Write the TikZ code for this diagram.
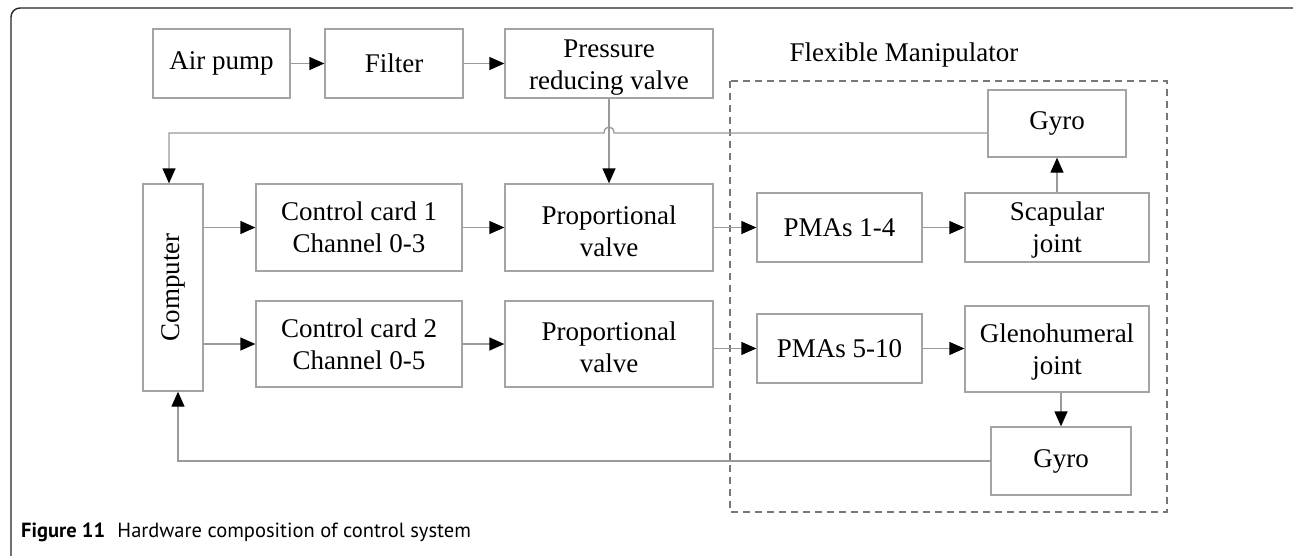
\documentclass[tikz,border=0pt]{standalone}
\usepackage{fontspec}
\setmainfont{Liberation Serif}
\newfontfamily\capfont{PT Sans}
\usetikzlibrary{arrows.meta}
\definecolor{boxgray}{HTML}{A4A4A4}
\definecolor{linegray}{HTML}{9A9A9A}
\definecolor{dashgray}{HTML}{777777}
\tikzset{
  blk/.style={draw=boxgray, line width=1.3pt, inner sep=0pt, align=center,
    font=\fontsize{27}{32}\selectfont, text=black},
  twoline/.style={text depth=0pt, yshift=0pt},
  conn/.style={draw=linegray, line width=1.3pt,
    -{Triangle[length=15pt,width=13pt,color=black]}},
}
\begin{document}
\begin{tikzpicture}[x=1pt,y=-1pt]
\useasboundingbox (0,0) rectangle (1293,555);
\clip (0,0) rectangle (1293,555);
\fill[white] (0,0) rectangle (1293,555);
% outer frame
\draw[draw=black!85, line width=1.4pt, rounded corners=9pt] (11,8) rectangle (1302,566);

% dashed region
\draw[draw=dashgray, line width=1.4pt, dash pattern=on 7pt off 5pt] (730,81) rectangle (1167,512);
\node[font=\fontsize{27}{32}\selectfont, inner sep=0pt] (fm) at (904,55) {Flexible Manipulator};

% boxes
\node[blk, minimum width=137pt, minimum height=69pt] (air) at (221.5,63.5) {Air pump};
\node[blk, minimum width=138pt, minimum height=69pt] (filter) at (394,63.5) {Filter};
\node[blk, minimum width=208pt, minimum height=69pt] (prv) at (609,63.5) {};
\node[font=\fontsize{27}{32}\selectfont, align=center, inner sep=0pt] (prvt) at (609,67.5) {Pressure\\reducing valve};
\node[blk, minimum width=60pt, minimum height=207pt] (comp) at (173,287.5) {};
\node[font=\fontsize{27}{32}\selectfont, rotate=90, inner sep=0pt] (comptext) at (comp.center) {Computer};
\node[blk, minimum width=206pt, minimum height=87pt] (cc1) at (359,227.5) {Control card 1\\Channel 0-3};
\node[blk, minimum width=208pt, minimum height=87pt] (pv1) at (609,227.5) {};
\node[font=\fontsize{27}{32}\selectfont, align=center, inner sep=0pt] (pv1t) at (609,231) {Proportional\\valve};
\node[blk, minimum width=165pt, minimum height=69pt] (pma1) at (839.5,227.5) {PMAs 1-4};
\node[blk, minimum width=184pt, minimum height=69pt] (scap) at (1057,227.5) {};
\node[font=\fontsize{27}{32}\selectfont, align=center, inner sep=0pt] (scapt) at (1057,230.5) {Scapular\\joint};
\node[blk, minimum width=138pt, minimum height=67pt] (gyro1) at (1057,123.5) {Gyro};
\node[blk, minimum width=206pt, minimum height=86pt] (cc2) at (359,344) {Control card 2\\Channel 0-5};
\node[blk, minimum width=208pt, minimum height=86pt] (pv2) at (609,344) {};
\node[font=\fontsize{27}{32}\selectfont, align=center, inner sep=0pt] (pv2t) at (609,347.5) {Proportional\\valve};
\node[blk, minimum width=165pt, minimum height=69pt] (pma2) at (839.5,348.5) {PMAs 5-10};
\node[blk, minimum width=184pt, minimum height=86pt] (glen) at (1057,349) {};
\node[font=\fontsize{27}{32}\selectfont, align=center, inner sep=0pt] (glent) at (1057,351.5) {Glenohumeral\\joint};
\node[blk, minimum width=140pt, minimum height=68pt] (gyro2) at (1061,461) {Gyro};

% connectors
\draw[conn] (air) -- (filter);
\draw[conn] (filter) -- (prv);
\draw[conn] (prv.south) -- (pv1.north);
\coordinate (h1) at (0,133);
\coordinate (hopR) at (614,133);
\coordinate (hopL) at (604,133);
\coordinate (tl) at (169,133);
\draw[conn] (gyro1.west |- h1) -- (hopR) .. controls (614,125) and (604,125) .. (hopL) -- (tl) -- (tl |- comp.north);
\draw[conn] (comp.east |- cc1.west) -- (cc1.west);
\draw[conn] (comp.east |- cc2.west) -- (cc2.west);
\draw[conn] (cc1) -- (pv1);
\draw[conn] (cc2) -- (pv2);
\draw[conn] (pv1) -- (pma1);
\draw[conn] (pma1) -- (scap);
\draw[conn] (pv2.east |- pma2.west) -- (pma2.west);
\draw[conn] (pma2.east) -- (glen.west |- pma2.east);
\draw[conn] (scap.north) -- (gyro1.south);
\draw[conn] (gyro2.north |- glen.south) -- (gyro2.north);
\coordinate (bl) at (178,461);
\draw[conn] (gyro2.west) -- (bl) -- (bl |- comp.south);

% caption
\node[anchor=base west, inner sep=0pt, font=\capfont\fontsize{20.5}{24}\selectfont] (cap) at (21,537)
  {\textbf{Figure 11}\hspace{0.6em}Hardware composition of control system};
\end{tikzpicture}
\end{document}
